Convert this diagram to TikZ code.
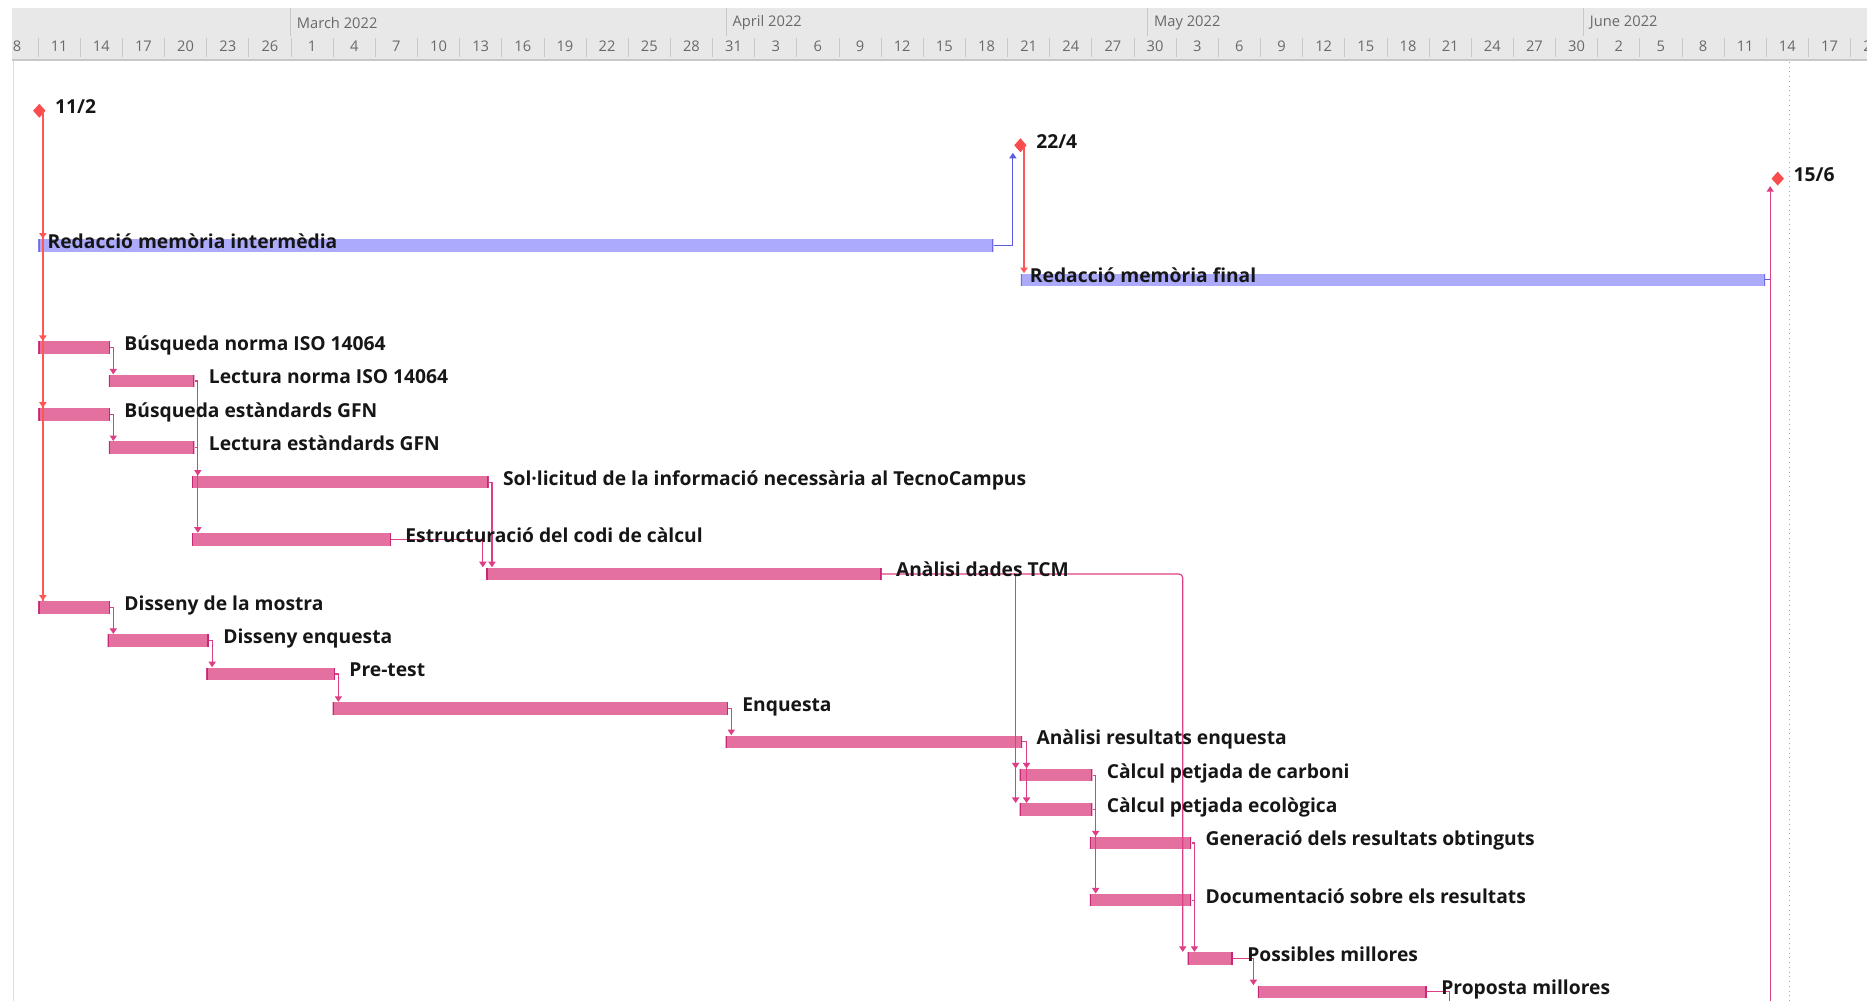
\documentclass[tikz,border=0pt]{standalone}
\usepackage{fontspec}
\setmainfont{Open Sans}
\usetikzlibrary{positioning, shapes.geometric, arrows.meta}

\definecolor{barpink}{RGB}{228,112,160}
\definecolor{barpinkend}{RGB}{196,40,118}
\definecolor{barblue}{RGB}{172,170,250}
\definecolor{barblueend}{RGB}{112,106,232}
\definecolor{linkpink}{RGB}{222,62,132}
\definecolor{linkred}{RGB}{255,86,86}
\definecolor{linkblue}{RGB}{92,92,222}
\definecolor{msred}{RGB}{250,76,76}
\definecolor{hdrbg}{RGB}{232,232,232}
\definecolor{hdrtext}{RGB}{105,105,105}
\definecolor{hdrtick}{RGB}{200,200,200}
\definecolor{lbltext}{RGB}{22,22,22}

\tikzset{
  pbar/.style={anchor=west, fill=barpink, minimum height=6.3pt, inner sep=0pt,
    path picture={\draw[barpinkend, line width=1.4pt]
      (path picture bounding box.north west) -- (path picture bounding box.south west)
      (path picture bounding box.north east) -- (path picture bounding box.south east);}},
  bbar/.style={anchor=west, fill=barblue, minimum height=6.3pt, inner sep=0pt,
    path picture={\draw[barblueend, line width=1.4pt]
      (path picture bounding box.north west) -- (path picture bounding box.south west)
      (path picture bounding box.north east) -- (path picture bounding box.south east);}},
  lbl/.style={inner sep=0pt, font=\bfseries\fontsize{9.7}{12}\selectfont, text=lbltext,
    text height=7.3pt, text depth=2.4pt, yshift=1pt},
  hdrlbl/.style={inner sep=0pt, font=\fontsize{7.4}{9}\selectfont, text=hdrtext},
  ms/.style={diamond, fill=msred, minimum width=6.4pt, minimum height=7.2pt, inner sep=0pt},
  tip/.style={-{Triangle[length=2.8pt,width=3.6pt]}},
  plink/.style={draw=linkpink, line width=0.6pt},
  rlink/.style={draw=linkred, line width=0.9pt},
  blink/.style={draw=linkblue, line width=0.6pt}
}

\begin{document}
\begin{tikzpicture}[x=0.6pt, y=-0.6pt]
\useasboundingbox (0,0) rectangle (1568,841);

\fill[hdrbg] (10,7) rectangle (1568,50);
\draw[hdrtick, line width=0.8pt] (10,50.5) -- (1568,50.5);
\draw[hdrtick!60] (11,51) -- (11,841);
\foreach \m/\x [count=\i] in {March 2022/244, April 2022/610, May 2022/964, June 2022/1330} {
  \draw[hdrtick] (\x,7) -- (\x,30);
  \node[hdrlbl, anchor=west] (mon\i) at (\x+5,19) {\m};
}
\foreach \d [count=\i from 0] in {8,11,14,17,20,23,26,1,4,7,10,13,16,19,22,25,28,31,3,6,9,12,15,18,21,24,27,30,3,6,9,12,15,18,21,24,27,30,2,5,8,11,14,17,20} {
  \node[hdrlbl] (day\i) at (14.3+35.4*\i,39) {\d};
  \draw[hdrtick] (32+35.4*\i,32) -- (32+35.4*\i,48);
}
\draw[gray!70, dotted] (1503,52) -- (1503,841);

\node[ms] (m1) at (33,93) {};
\node[ms] (m2) at (857,122) {};
\node[ms] (m3) at (1493,150) {};

\node[bbar, minimum width=481.2pt] (inter) at (32,206) {};
\node[bbar, minimum width=375pt] (final) at (857,235) {};
\node[pbar, minimum width=36pt] (bnorma) at (32,292) {};
\node[pbar, minimum width=43.2pt] (lnorma) at (91,320) {};
\node[pbar, minimum width=36pt] (bgfn) at (32,348) {};
\node[pbar, minimum width=43.2pt] (lgfn) at (91,376) {};
\node[pbar, minimum width=149.4pt] (solt) at (161,405) {};
\node[pbar, minimum width=100.2pt] (estr) at (161,453) {};
\node[pbar, minimum width=199.2pt] (tcm) at (408,482) {};
\node[pbar, minimum width=36pt] (dmostra) at (32,510) {};
\node[pbar, minimum width=51pt] (denq) at (90,538) {};
\node[pbar, minimum width=64.8pt] (pretest) at (173,566) {};
\node[pbar, minimum width=199.2pt] (enq) at (279,595) {};
\node[pbar, minimum width=149.4pt] (ares) at (609,623) {};
\node[pbar, minimum width=36.6pt] (ccarb) at (856,651) {};
\node[pbar, minimum width=36.6pt] (cecol) at (856,680) {};
\node[pbar, minimum width=51pt] (gener) at (915,708) {};
\node[pbar, minimum width=51pt] (docu) at (915,756) {};
\node[pbar, minimum width=22.8pt] (poss) at (997,805) {};
\node[pbar, minimum width=85.2pt] (prop) at (1056,833) {};

\coordinate (c1) at ([xshift=1.8pt]m1.center);
\draw[rlink] (c1) -- (c1 |- dmostra.north);
\draw[rlink, tip] (c1) -- (c1 |- inter.north);
\draw[rlink, tip] (c1) -- (c1 |- bnorma.north);
\draw[rlink, tip] (c1) -- (c1 |- bgfn.north);
\draw[rlink, tip] (c1) -- (c1 |- dmostra.north);

\draw[blink, tip] (inter.east) -- ++(16,0) coordinate (k) -- (k |- m2.south);
\coordinate (c2) at ([xshift=1.8pt]m2.center);
\draw[rlink, tip] (c2) -- (c2 |- final.north);
\draw[blink] (final.east) -- ++(4,0);
\coordinate (c3) at ([xshift=2.4pt]final.east);
\draw[plink, tip] (c3 |- 0,841) -- (c3 |- m3.south);

\draw[plink, tip] (bnorma.east) -- ++(2.5,0) coordinate (k) -- (k |- lnorma.north);
\draw[plink, tip] (bgfn.east) -- ++(2.5,0) coordinate (k) -- (k |- lgfn.north);
\draw[plink, tip] (lnorma.east) -- ++(2.5,0) coordinate (k) -- (k |- solt.north);
\draw[plink, tip] (k) -- (k |- estr.north);
\draw[plink] (lgfn.east) -- ++(2.5,0);
\draw[plink, tip] (solt.east) -- ++(2.5,0) coordinate (k) -- (k |- tcm.north);
\draw[plink, tip] (estr.east) -| ([xshift=-1.5pt]tcm.north west);

\draw[plink, tip, rounded corners=2pt] (tcm.east) -| ([xshift=-2.2pt]poss.north west);
\coordinate (k) at ([xshift=-1.8pt]ccarb.north west);
\draw[plink, tip] (k |- tcm.east) -- (k);
\draw[plink, tip] (k |- tcm.east) -- (k |- cecol.north);

\draw[plink, tip] (dmostra.east) -- ++(2.5,0) coordinate (k) -- (k |- denq.north);
\draw[plink, tip] (denq.east) -- ++(2.5,0) coordinate (k) -- (k |- pretest.north);
\draw[plink, tip] (pretest.east) -- ++(2.5,0) coordinate (k) -- (k |- enq.north);
\draw[plink, tip] (enq.east) -- ++(2.5,0) coordinate (k) -- (k |- ares.north);
\draw[plink, tip] (ares.east) -- ++(3.5,0) coordinate (k) -- (k |- ccarb.north);
\draw[plink, tip] (k) -- (k |- cecol.north);
\draw[plink, tip] (ccarb.east) -- ++(2.5,0) coordinate (k) -- (k |- gener.north);
\draw[plink, tip] (k) -- (k |- docu.north);
\draw[plink] (cecol.east) -- ++(2.5,0);
\draw[plink, tip] (gener.east) -- ++(2.5,0) coordinate (k) -- (k |- poss.north);
\draw[plink] (docu.east) -- ++(2.5,0);
\draw[plink, tip] (poss.east) -- ++(17,0) coordinate (k) -- (k |- prop.north);
\draw[plink] (prop.east) -- ++(19,0) coordinate (k) -- (k |- 0,841);

\node[lbl, right=4.4pt of m1] (m1-t) {11/2};
\node[lbl, right=4.4pt of m2] (m2-t) {22/4};
\node[lbl, right=4.4pt of m3] (m3-t) {15/6};
\node[lbl, right=4.6pt of inter.west] (inter-t) {Redacció memòria intermèdia};
\node[lbl, right=4.6pt of final.west] (final-t) {Redacció memòria final};
\node[lbl, right=6.9pt of bnorma] (bnorma-t) {Búsqueda norma ISO 14064};
\node[lbl, right=6.9pt of lnorma] (lnorma-t) {Lectura norma ISO 14064};
\node[lbl, right=6.9pt of bgfn] (bgfn-t) {Búsqueda estàndards GFN};
\node[lbl, right=6.9pt of lgfn] (lgfn-t) {Lectura estàndards GFN};
\node[lbl, right=6.9pt of solt] (solt-t) {Sol·licitud de la informació necessària al TecnoCampus};
\node[lbl, right=6.9pt of estr] (estr-t) {Estructuració del codi de càlcul};
\node[lbl, right=6.9pt of tcm] (tcm-t) {Anàlisi dades TCM};
\node[lbl, right=6.9pt of dmostra] (dmostra-t) {Disseny de la mostra};
\node[lbl, right=6.9pt of denq] (denq-t) {Disseny enquesta};
\node[lbl, right=6.9pt of pretest] (pretest-t) {Pre-test};
\node[lbl, right=6.9pt of enq] (enq-t) {Enquesta};
\node[lbl, right=6.9pt of ares] (ares-t) {Anàlisi resultats enquesta};
\node[lbl, right=6.9pt of ccarb] (ccarb-t) {Càlcul petjada de carboni};
\node[lbl, right=6.9pt of cecol] (cecol-t) {Càlcul petjada ecològica};
\node[lbl, right=6.9pt of gener] (gener-t) {Generació dels resultats obtinguts};
\node[lbl, right=6.9pt of docu] (docu-t) {Documentació sobre els resultats};
\node[lbl, right=6.9pt of poss] (poss-t) {Possibles millores};
\node[lbl, right=6.9pt of prop] (prop-t) {Proposta millores};
\end{tikzpicture}
\end{document}
